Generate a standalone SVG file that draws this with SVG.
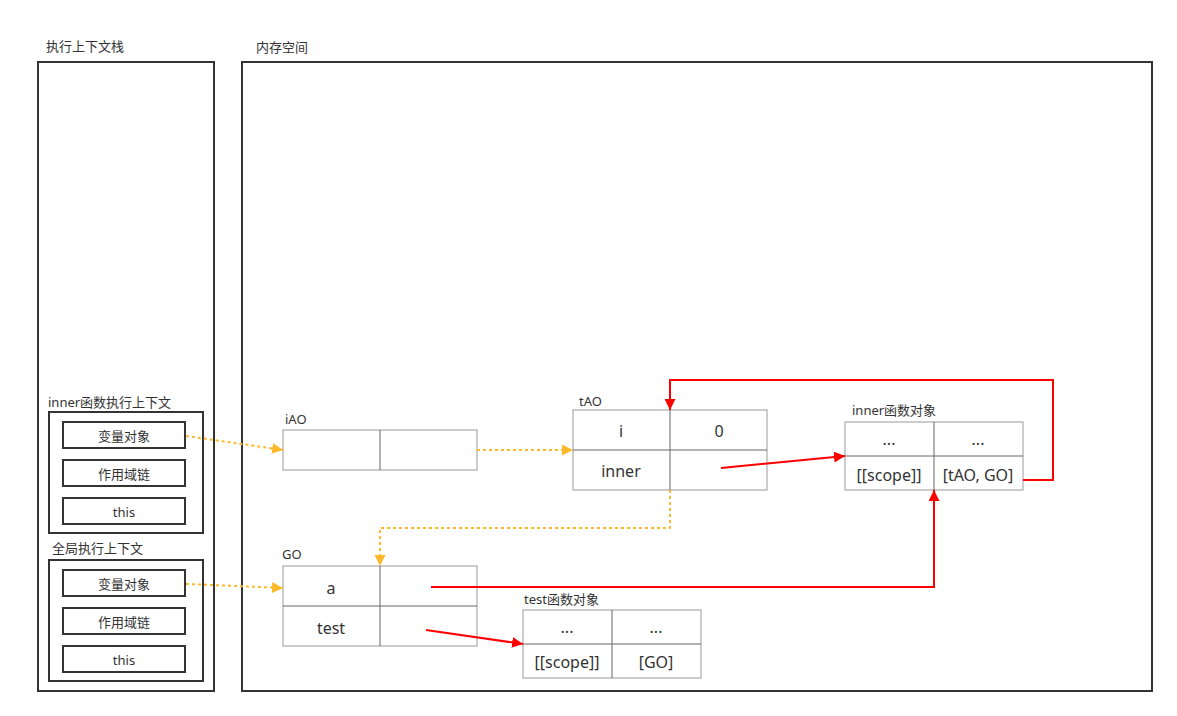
<svg xmlns="http://www.w3.org/2000/svg" width="1177" height="716" viewBox="0 0 1177 716">
<style>
text{font-family:"Noto Sans","Noto Sans CJK SC",sans-serif;fill:#333}
.lbl{font-size:13px}
.cell{font-size:16px;text-anchor:middle;dominant-baseline:central}
.small{font-size:13px;text-anchor:middle;dominant-baseline:central}
.frame{fill:#fff;stroke:#333;stroke-width:2}
.tbl{fill:#fff;stroke:#999;stroke-width:1}
.div{stroke:#666;stroke-width:1;fill:none}
.y{stroke:#FDB92C;stroke-width:2;stroke-dasharray:3 3;fill:none}
.r{stroke:#FF0000;stroke-width:2;fill:none}
</style>
<defs>
<marker id="ya" viewBox="0 0 10 10" refX="10" refY="5" markerWidth="11" markerHeight="11" orient="auto" markerUnits="userSpaceOnUse"><path d="M0,0 L10,5 L0,10 z" fill="#FDB92C"/></marker>
<marker id="ra" viewBox="0 0 10 10" refX="10" refY="5" markerWidth="11" markerHeight="11" orient="auto" markerUnits="userSpaceOnUse"><path d="M0,0 L10,5 L0,10 z" fill="#FF0000"/></marker>
</defs>
<rect width="1177" height="716" fill="#fff"/>
<g id="stack">
<text class="lbl" x="46" y="51">执行上下文栈</text>
<rect class="frame" x="38" y="62" width="176" height="629"/>
</g>
<g id="memory">
<text class="lbl" x="256" y="52">内存空间</text>
<rect class="frame" x="242" y="62" width="910" height="629"/>
</g>
<g id="innerCtx">
<text class="lbl" x="48" y="407">inner函数执行上下文</text>
<rect class="frame" x="49" y="412" width="154" height="121"/>
<rect class="frame" x="63" y="422" width="122" height="26"/>
<text class="small" x="124" y="436">变量对象</text>
<rect class="frame" x="63" y="460" width="122" height="26"/>
<text class="small" x="124" y="474">作用域链</text>
<rect class="frame" x="63" y="498" width="122" height="26"/>
<text class="small" x="124" y="512">this</text>
</g>
<g id="globalCtx">
<text class="lbl" x="52" y="553">全局执行上下文</text>
<rect class="frame" x="49" y="560" width="154" height="121"/>
<rect class="frame" x="63" y="570" width="122" height="26"/>
<text class="small" x="124" y="584">变量对象</text>
<rect class="frame" x="63" y="608" width="122" height="26"/>
<text class="small" x="124" y="622">作用域链</text>
<rect class="frame" x="63" y="646" width="122" height="26"/>
<text class="small" x="124" y="660">this</text>
</g>
<g id="iAO">
<text class="lbl" x="285" y="424">iAO</text>
<rect class="tbl" x="283" y="430" width="194" height="40"/>
<line class="div" x1="380" y1="430" x2="380" y2="470"/>
</g>
<g id="tAO">
<text class="lbl" x="579" y="406">tAO</text>
<rect class="tbl" x="573" y="410" width="194" height="80"/>
<line class="div" x1="670" y1="410" x2="670" y2="490"/>
<line class="div" x1="573" y1="450" x2="767" y2="450"/>
<text class="cell" x="621" y="431">i</text>
<text class="cell" x="719" y="431">0</text>
<text class="cell" x="621" y="471">inner</text>
</g>
<g id="innerFn">
<text class="lbl" x="852" y="415">inner函数对象</text>
<rect class="tbl" x="845" y="422" width="178" height="68"/>
<line class="div" x1="934" y1="422" x2="934" y2="490"/>
<line class="div" x1="845" y1="456" x2="1023" y2="456"/>
<text class="cell" x="889" y="439">...</text>
<text class="cell" x="978" y="439">...</text>
<text class="cell" x="889" y="475">[[scope]]</text>
<text class="cell" x="978" y="475">[tAO, GO]</text>
</g>
<g id="GO">
<text class="lbl" x="282" y="559">GO</text>
<rect class="tbl" x="283" y="566" width="194" height="80"/>
<line class="div" x1="380" y1="566" x2="380" y2="646"/>
<line class="div" x1="283" y1="606" x2="477" y2="606"/>
<text class="cell" x="331" y="588">a</text>
<text class="cell" x="331" y="628">test</text>
</g>
<g id="testFn">
<text class="lbl" x="524" y="604">test函数对象</text>
<rect class="tbl" x="523" y="610" width="178" height="68"/>
<line class="div" x1="612" y1="610" x2="612" y2="678"/>
<line class="div" x1="523" y1="644" x2="701" y2="644"/>
<text class="cell" x="567" y="627">...</text>
<text class="cell" x="656" y="627">...</text>
<text class="cell" x="567" y="662">[[scope]]</text>
<text class="cell" x="656" y="662">[GO]</text>
</g>
<g id="connectors">
<path class="y" d="M186,436 L283,450" marker-end="url(#ya)"/>
<path class="y" d="M477,450 L573,450" marker-end="url(#ya)"/>
<path class="y" d="M670,490 L670,528 L380,528 L380,566" marker-end="url(#ya)"/>
<path class="y" d="M186,584 L283,588" marker-end="url(#ya)"/>
<path class="r" d="M721,468 L845,456" marker-end="url(#ra)"/>
<path class="r" d="M1023,480 L1053,480 L1053,380 L670,380 L670,410" marker-end="url(#ra)"/>
<path class="r" d="M431,587 L934,587 L934,490" marker-end="url(#ra)"/>
<path class="r" d="M426,630 L523,644" marker-end="url(#ra)"/>
</g>
</svg>
